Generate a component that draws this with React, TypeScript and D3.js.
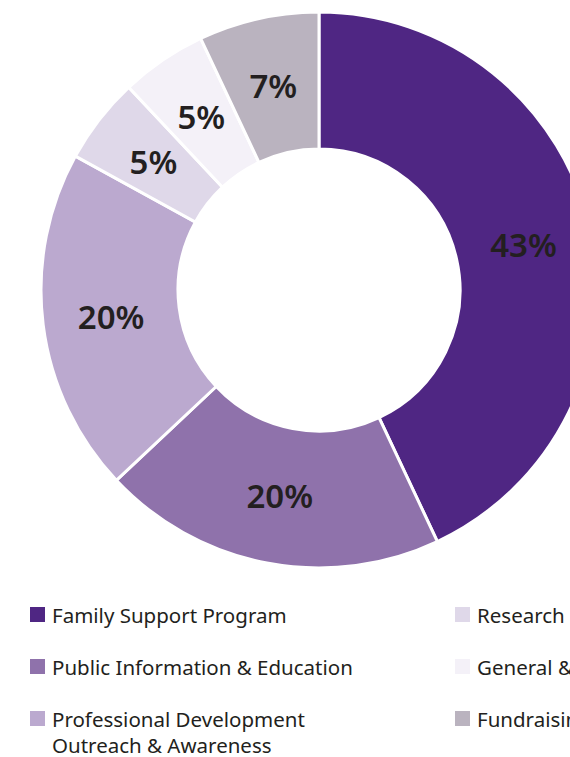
import React from "react";
import * as d3 from "d3";

const categories = [
  "Family Support Program",
  "Public Information & Education",
  "Professional Development Outreach & Awareness",
  "Research",
  "General & Administrative",
  "Fundraising",
];
const values = [43, 20, 20, 5, 5, 7];
const colors = ["#4F2683", "#8F72AB", "#BBA9CF", "#DFD8E9", "#F4F1F8", "#BAB3BF"];
const legendLines = [
  ["Family Support Program"],
  ["Public Information & Education"],
  ["Professional Development", "Outreach & Awareness"],
  ["Research"],
  ["General & Administrative"],
  ["Fundraising"],
];

export default function App() {
  const W = 570, H = 757;
  const cx = 319, cy = 290, rOuter = 278, rInner = 141;
  const pie = d3.pie<number>().sort(null).value((d) => d);
  const arcs = pie(values);
  const arc = d3.arc<d3.PieArcDatum<number>>().innerRadius(rInner).outerRadius(rOuter);
  const labelArc = d3.arc<d3.PieArcDatum<number>>().innerRadius(rInner + 60).outerRadius(rOuter - 60);
  const rowY = d3.scalePoint<number>().domain([0, 1, 2]).range([615, 719]);
  const colX = d3.scalePoint<number>().domain([0, 1]).range([30, 455]);
  const font = "'Noto Sans', 'Open Sans', sans-serif";
  return (
    <svg width={W} height={H} style={{ position: "absolute", left: 0, top: 0, background: "#fff" }}>
      <g transform={`translate(${cx},${cy})`}>
        {arcs.map((a, i) => (
          <path key={i} d={arc(a) || ""} fill={colors[i]} stroke="#fff" strokeWidth={3} />
        ))}
        {arcs.map((a, i) => {
          const [x, y] = labelArc.centroid(a);
          return (
            <text key={i} x={x} y={y} textAnchor="middle" dominantBaseline="central" fontFamily={font}
              fontWeight={600} fontSize={33} fill="#231F20">
              {values[i]}%
            </text>
          );
        })}
      </g>
      {categories.map((c, i) => {
        const col = Math.floor(i / 3);
        const row = i % 3;
        const x = colX(col)!;
        const y = rowY(row)!;
        return (
          <g key={c}>
            <rect x={x} y={y - 8} width={15} height={15} fill={colors[i]} />
            <text x={x + 22} y={y} dominantBaseline="central" fontFamily={font} fontSize={20.5} fill="#231F20">
              {legendLines[i].map((l, k) => (
                <tspan key={k} x={x + 22} dy={k === 0 ? 0 : 26}>{l}</tspan>
              ))}
            </text>
          </g>
        );
      })}
    </svg>
  );
}
